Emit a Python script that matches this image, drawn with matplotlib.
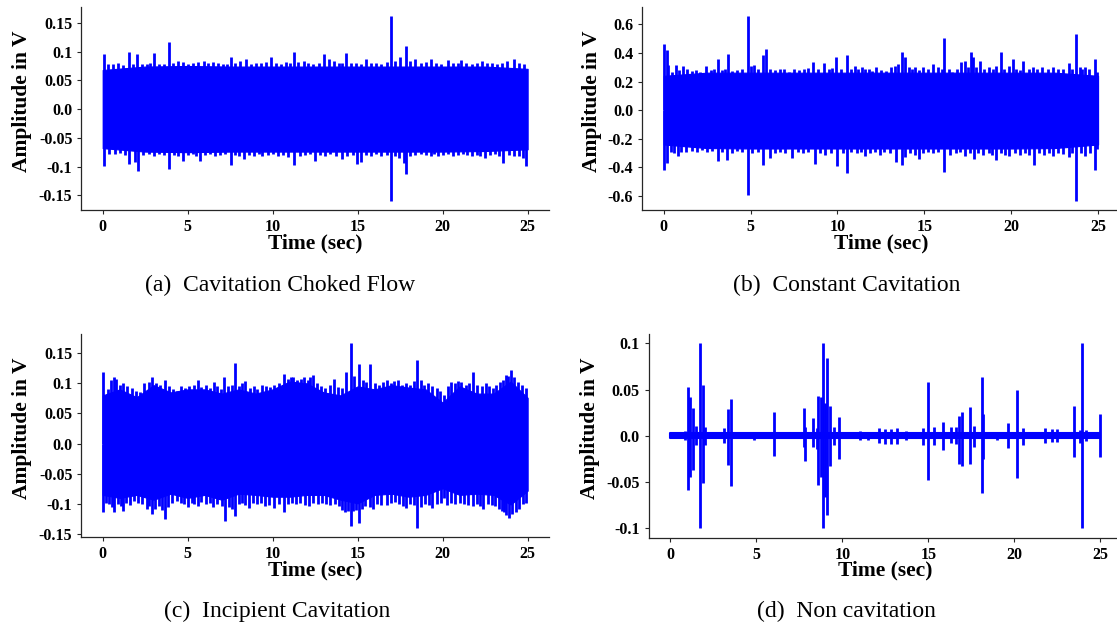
import matplotlib
matplotlib.use("Agg")
import matplotlib.pyplot as plt

# ---------------- data ----------------
time_ticks = [0, 5, 10, 15, 20, 25]
time_tick_labels = ["0", "5", "10", "15", "20", "25"]

captions = ["(a)  Cavitation Choked Flow", "(b)  Constant Cavitation",
            "(c)  Incipient Cavitation", "(d)  Non cavitation"]

# y ticks
a_yticks = [-0.15, -0.1, -0.05, 0.0, 0.05, 0.1, 0.15]
a_ylabels = ["-0.15", "-0.1", "-0.05", "0.0", "0.05", "0.1", "0.15"]
b_yticks = [-0.6, -0.4, -0.2, 0.0, 0.2, 0.4, 0.6]
b_ylabels = ["-0.6", "-0.4", "-0.2", "0.0", "0.2", "0.4", "0.6"]
c_yticks = a_yticks
c_ylabels = a_ylabels
d_yticks = [-0.1, -0.05, 0.0, 0.05, 0.1]
d_ylabels = ["-0.1", "-0.05", "0.0", "0.05", "0.1"]

# ---- (a) Cavitation Choked Flow: solid core envelope + peaks ----
a_env_t = [0, 2.5, 5, 7.5, 10, 12.5, 15, 17.5, 20, 22.5, 25]
a_env_up = [0.068, 0.074, 0.075, 0.074, 0.074, 0.074, 0.074, 0.074, 0.074, 0.074, 0.070]
a_env_lo = [-0.068, -0.074, -0.075, -0.074, -0.074, -0.074, -0.074, -0.074, -0.074, -0.073, -0.070]
a_top_t = [0.06, 0.3, 0.6, 0.9, 1.2, 1.56, 1.8, 2.04, 2.3, 2.6, 2.8, 3.04, 3.3, 3.6, 3.9,
           4.15, 4.42, 4.7, 5.0, 5.3, 5.6, 5.96, 6.2, 6.5, 6.8, 7.1, 7.3, 7.56, 7.8, 8.1,
           8.44, 8.7, 9.0, 9.3, 9.6, 9.92, 10.2, 10.5, 10.8, 11.0, 11.23, 11.5, 11.83, 12.1,
           12.4, 12.7, 13.04, 13.3, 13.6, 13.9, 14.1, 14.33, 14.6, 14.9, 15.2, 15.48, 15.8,
           16.1, 16.4, 16.7, 16.94, 17.2, 17.5, 17.83, 18.1, 18.4, 18.7, 19.0, 19.3, 19.6,
           19.9, 20.3, 20.6, 20.9, 21.1, 21.4, 21.7, 22.0, 22.3, 22.6, 22.9, 23.2, 23.5,
           23.8, 24.2, 24.5, 24.8]
a_top_v = [0.095, 0.079, 0.078, 0.080, 0.077, 0.0995, 0.079, 0.096, 0.078, 0.079, 0.081, 0.097,
           0.078, 0.079, 0.117, 0.080, 0.084, 0.082, 0.079, 0.080, 0.082, 0.084, 0.081, 0.082,
           0.080, 0.078, 0.079, 0.090, 0.080, 0.084, 0.088, 0.079, 0.080, 0.080, 0.082, 0.090,
           0.080, 0.079, 0.082, 0.080, 0.099, 0.082, 0.084, 0.081, 0.079, 0.080, 0.095, 0.087,
           0.083, 0.080, 0.081, 0.097, 0.080, 0.081, 0.079, 0.088, 0.081, 0.080, 0.079, 0.082,
           0.162, 0.084, 0.091, 0.110, 0.084, 0.088, 0.080, 0.082, 0.087, 0.080, 0.079, 0.085,
           0.080, 0.081, 0.086, 0.080, 0.079, 0.081, 0.084, 0.080, 0.081, 0.079, 0.080, 0.083,
           0.088, 0.080, 0.079]
a_bot_t = [0.1, 0.4, 0.7, 1.0, 1.3, 1.56, 1.9, 2.1, 2.4, 2.7, 3.0, 3.3, 3.6, 3.9, 4.2, 4.45,
           4.7, 5.0, 5.3, 5.5, 5.73, 6.0, 6.3, 6.6, 6.9, 7.2, 7.56, 7.8, 8.0, 8.3, 8.6, 8.9,
           9.2, 9.4, 9.7, 10.0, 10.3, 10.6, 10.9, 11.27, 11.6, 11.9, 12.2, 12.5, 12.8, 13.1,
           13.4, 13.7, 14.1, 14.4, 14.7, 14.96, 15.2, 15.5, 15.8, 16.1, 16.4, 16.7, 16.94,
           17.2, 17.45, 17.7, 17.83, 18.1, 18.4, 18.7, 19.0, 19.3, 19.5, 19.75, 20.0, 20.3,
           20.6, 20.9, 21.2, 21.45, 21.7, 22.0, 22.2, 22.5, 22.8, 23.1, 23.3, 23.56, 23.9,
           24.2, 24.5, 24.7, 24.9]
a_bot_v = [-0.099, -0.078, -0.079, -0.077, -0.080, -0.095, -0.092, -0.107, -0.080, -0.078,
           -0.081, -0.079, -0.080, -0.105, -0.080, -0.082, -0.090, -0.080, -0.079, -0.082,
           -0.090, -0.080, -0.078, -0.081, -0.080, -0.079, -0.098, -0.080, -0.082, -0.087,
           -0.080, -0.081, -0.079, -0.082, -0.080, -0.079, -0.081, -0.080, -0.083, -0.098,
           -0.081, -0.080, -0.079, -0.091, -0.080, -0.081, -0.079, -0.082, -0.087, -0.081,
           -0.080, -0.095, -0.092, -0.080, -0.081, -0.079, -0.082, -0.080, -0.160, -0.082,
           -0.086, -0.094, -0.113, -0.081, -0.080, -0.079, -0.080, -0.081, -0.079, -0.082,
           -0.080, -0.079, -0.081, -0.080, -0.079, -0.080, -0.082, -0.080, -0.081, -0.085,
           -0.080, -0.079, -0.081, -0.094, -0.080, -0.081, -0.082, -0.085, -0.099]

# ---- (b) Constant Cavitation ----
b_env_t = [0, 2.5, 5, 7.5, 10, 12.5, 15, 17.5, 20, 22.5, 25]
b_env_up = [0.24, 0.262, 0.262, 0.262, 0.262, 0.262, 0.262, 0.262, 0.262, 0.262, 0.24]
b_env_lo = [-0.24, -0.265, -0.268, -0.268, -0.268, -0.268, -0.268, -0.268, -0.268, -0.265, -0.24]
b_top_t = [0.04, 0.18, 0.25, 0.5, 0.7, 0.9, 1.1, 1.35, 1.6, 1.85, 2.1, 2.43, 2.7, 2.9, 3.1,
           3.35, 3.5, 3.7, 3.95, 4.2, 4.5, 4.84, 5.0, 5.18, 5.4, 5.7, 5.9, 6.1, 6.4, 6.67,
           6.9, 7.2, 7.5, 7.8, 8.1, 8.3, 8.6, 8.9, 9.2, 9.5, 9.7, 9.94, 10.2, 10.55, 10.8,
           11.0, 11.2, 11.4, 11.6, 11.8, 12.0, 12.2, 12.5, 12.8, 13.08, 13.3, 13.5, 13.7,
           13.86, 14.1, 14.3, 14.47, 14.7, 14.9, 15.2, 15.5, 15.8, 16.0, 16.14, 16.4, 16.6,
           16.9, 17.1, 17.33, 17.5, 17.67, 17.8, 18.0, 18.2, 18.45, 18.7, 18.95, 19.15, 19.4,
           19.6, 19.85, 20.08, 20.3, 20.5, 20.7, 21.0, 21.25, 21.5, 21.8, 22.1, 22.4, 22.7,
           23.0, 23.3, 23.5, 23.71, 23.95, 24.1, 24.27, 24.5, 24.84, 24.95]
b_top_v = [0.459, 0.420, 0.315, 0.270, 0.315, 0.280, 0.310, 0.285, 0.275, 0.280, 0.265, 0.308,
           0.280, 0.285, 0.360, 0.280, 0.285, 0.390, 0.275, 0.280, 0.290, 0.658, 0.310, 0.315,
           0.285, 0.385, 0.424, 0.290, 0.280, 0.285, 0.290, 0.270, 0.285, 0.280, 0.285, 0.295,
           0.333, 0.290, 0.331, 0.285, 0.295, 0.368, 0.290, 0.385, 0.285, 0.310, 0.290, 0.300,
           0.285, 0.290, 0.275, 0.300, 0.280, 0.275, 0.300, 0.310, 0.320, 0.408, 0.373, 0.300,
           0.290, 0.300, 0.280, 0.300, 0.290, 0.322, 0.300, 0.290, 0.505, 0.285, 0.270, 0.290,
           0.338, 0.340, 0.300, 0.408, 0.368, 0.300, 0.343, 0.290, 0.300, 0.290, 0.310, 0.403,
           0.290, 0.310, 0.354, 0.290, 0.280, 0.345, 0.290, 0.300, 0.285, 0.300, 0.290, 0.300,
           0.285, 0.290, 0.331, 0.290, 0.535, 0.300, 0.290, 0.300, 0.285, 0.360, 0.270]
b_bot_t = [0.04, 0.18, 0.4, 0.6, 0.8, 1.0, 1.3, 1.6, 1.9, 2.2, 2.5, 2.8, 3.1, 3.35, 3.65, 3.9,
           4.2, 4.5, 4.84, 5.1, 5.4, 5.7, 6.1, 6.4, 6.7, 7.0, 7.39, 7.7, 8.0, 8.3, 8.71, 9.0,
           9.3, 9.6, 9.98, 10.3, 10.55, 10.8, 11.1, 11.35, 11.6, 11.9, 12.15, 12.43, 12.7,
           13.0, 13.35, 13.7, 13.9, 14.2, 14.45, 14.67, 14.9, 15.2, 15.5, 15.8, 16.14, 16.5,
           16.8, 17.05, 17.33, 17.6, 17.84, 18.1, 18.4, 18.7, 18.9, 19.12, 19.4, 19.65, 19.9,
           20.2, 20.5, 20.8, 21.05, 21.3, 21.6, 21.9, 22.15, 22.43, 22.7, 23.0, 23.3, 23.5,
           23.71, 24.0, 24.27, 24.55, 24.8, 24.95]
b_bot_v = [-0.415, -0.368, -0.290, -0.300, -0.322, -0.290, -0.295, -0.285, -0.290, -0.280,
           -0.295, -0.285, -0.357, -0.290, -0.350, -0.300, -0.285, -0.290, -0.595, -0.300,
           -0.295, -0.380, -0.336, -0.300, -0.290, -0.300, -0.334, -0.290, -0.300, -0.295,
           -0.378, -0.300, -0.310, -0.300, -0.387, -0.300, -0.438, -0.290, -0.300, -0.295,
           -0.322, -0.300, -0.295, -0.310, -0.290, -0.300, -0.364, -0.385, -0.330, -0.300,
           -0.310, -0.340, -0.300, -0.295, -0.300, -0.290, -0.430, -0.310, -0.300, -0.290,
           -0.322, -0.300, -0.340, -0.300, -0.310, -0.300, -0.310, -0.345, -0.300, -0.310,
           -0.322, -0.300, -0.310, -0.300, -0.310, -0.382, -0.300, -0.310, -0.300, -0.320,
           -0.300, -0.305, -0.325, -0.300, -0.635, -0.300, -0.322, -0.300, -0.415, -0.270]

# ---- (c) Incipient Cavitation ----
c_env_t = list(range(26))
c_env_up = [0.080, 0.090, 0.077, 0.097, 0.085, 0.090, 0.090, 0.083, 0.090, 0.083, 0.090, 0.103,
            0.100, 0.085, 0.080, 0.095, 0.090, 0.097, 0.093, 0.090, 0.068, 0.095, 0.083, 0.083,
            0.103, 0.076]
c_env_lo = [-0.085, -0.090, -0.085, -0.093, -0.083, -0.090, -0.085, -0.093, -0.083, -0.085,
            -0.088, -0.088, -0.085, -0.085, -0.093, -0.099, -0.085, -0.083, -0.088, -0.085,
            -0.074, -0.085, -0.083, -0.085, -0.101, -0.078]
c_top_t = [0.02, 0.3, 0.5, 0.65, 0.8, 1.0, 1.2, 1.45, 1.7, 1.95, 2.2, 2.45, 2.7, 2.9, 3.15,
           3.4, 3.65, 3.9, 4.15, 4.4, 4.6, 4.85, 5.1, 5.35, 5.58, 5.8, 6.05, 6.3, 6.52, 6.75,
           6.95, 7.15, 7.4, 7.6, 7.77, 8.0, 8.2, 8.4, 8.65, 8.9, 9.1, 9.35, 9.6, 9.85, 10.1,
           10.35, 10.65, 10.9, 11.05, 11.2, 11.45, 11.65, 11.83, 12.05, 12.2, 12.35, 12.6,
           12.85, 13.1, 13.35, 13.6, 13.85, 14.1, 14.33, 14.58, 14.8, 15.06, 15.3, 15.5, 15.75,
           16.0, 16.25, 16.5, 16.7, 16.95, 17.15, 17.35, 17.6, 17.85, 18.1, 18.3, 18.5, 18.7,
           18.9, 19.15, 19.4, 19.65, 19.85, 20.1, 20.3, 20.48, 20.7, 20.9, 21.1, 21.35, 21.55,
           21.8, 22.05, 22.3, 22.55, 22.75, 22.98, 23.15, 23.35, 23.55, 23.7, 23.85, 24.02,
           24.2, 24.44, 24.65, 24.9]
c_top_v = [0.119, 0.090, 0.105, 0.110, 0.108, 0.098, 0.100, 0.095, 0.092, 0.088, 0.085, 0.100,
           0.103, 0.110, 0.100, 0.098, 0.106, 0.095, 0.090, 0.088, 0.095, 0.092, 0.095, 0.098,
           0.106, 0.094, 0.098, 0.092, 0.102, 0.095, 0.090, 0.110, 0.095, 0.098, 0.1335, 0.095,
           0.100, 0.104, 0.092, 0.095, 0.090, 0.098, 0.095, 0.094, 0.098, 0.100, 0.116, 0.108,
           0.110, 0.110, 0.105, 0.108, 0.111, 0.105, 0.110, 0.113, 0.100, 0.095, 0.092, 0.098,
           0.108, 0.094, 0.092, 0.119, 0.1665, 0.112, 0.132, 0.105, 0.102, 0.132, 0.100, 0.098,
           0.102, 0.106, 0.100, 0.104, 0.106, 0.098, 0.100, 0.098, 0.104, 0.138, 0.106, 0.098,
           0.100, 0.095, 0.092, 0.088, 0.080, 0.095, 0.102, 0.100, 0.104, 0.102, 0.098, 0.100,
           0.119, 0.098, 0.095, 0.100, 0.095, 0.092, 0.098, 0.102, 0.105, 0.113, 0.112, 0.1225,
           0.110, 0.102, 0.098, 0.092]
c_bot_t = [0.0, 0.2, 0.37, 0.55, 0.69, 0.9, 1.05, 1.2, 1.4, 1.6, 1.85, 2.1, 2.3, 2.6, 2.75,
           2.9, 3.1, 3.3, 3.5, 3.65, 3.85, 4.1, 4.35, 4.6, 4.8, 5.0, 5.25, 5.4, 5.58, 5.8,
           6.05, 6.3, 6.5, 6.75, 7.0, 7.2, 7.45, 7.6, 7.77, 8.0, 8.2, 8.4, 8.6, 8.85, 9.1, 9.3,
           9.54, 9.8, 10.1, 10.35, 10.65, 10.9, 11.15, 11.4, 11.6, 11.9, 12.15, 12.4, 12.65,
           12.9, 13.15, 13.4, 13.65, 13.9, 14.1, 14.27, 14.45, 14.58, 14.75, 14.9, 15.06,
           15.25, 15.45, 15.7, 15.9, 16.15, 16.4, 16.7, 16.95, 17.2, 17.45, 17.65, 17.85, 18.1,
           18.3, 18.5, 18.7, 18.95, 19.2, 19.4, 19.65, 19.9, 20.05, 20.27, 20.5, 20.75, 21.0,
           21.25, 21.5, 21.8, 22.05, 22.2, 22.4, 22.65, 22.9, 23.1, 23.3, 23.5, 23.6, 23.75,
           23.9, 24.1, 24.33, 24.5, 24.7, 24.9]
c_bot_v = [-0.114, -0.098, -0.100, -0.105, -0.113, -0.100, -0.104, -0.111, -0.098, -0.102,
           -0.095, -0.098, -0.100, -0.109, -0.104, -0.117, -0.108, -0.104, -0.110, -0.125,
           -0.105, -0.098, -0.095, -0.098, -0.100, -0.105, -0.098, -0.100, -0.104, -0.096,
           -0.100, -0.098, -0.105, -0.100, -0.104, -0.128, -0.105, -0.108, -0.120, -0.100,
           -0.098, -0.102, -0.106, -0.098, -0.100, -0.098, -0.104, -0.102, -0.106, -0.100,
           -0.114, -0.100, -0.098, -0.100, -0.098, -0.102, -0.104, -0.098, -0.100, -0.098,
           -0.100, -0.102, -0.100, -0.104, -0.110, -0.114, -0.112, -0.136, -0.112, -0.110,
           -0.132, -0.108, -0.104, -0.105, -0.108, -0.100, -0.102, -0.102, -0.098, -0.096,
           -0.100, -0.104, -0.107, -0.100, -0.102, -0.140, -0.105, -0.100, -0.102, -0.106,
           -0.100, -0.098, -0.090, -0.102, -0.098, -0.100, -0.098, -0.100, -0.102, -0.104,
           -0.100, -0.104, -0.109, -0.100, -0.102, -0.104, -0.108, -0.112, -0.114, -0.118,
           -0.124, -0.116, -0.114, -0.108, -0.100, -0.098]

# ---- (d) Non cavitation: quiet baseline + bursts ----
d_env_t = [0, 25]
d_env_up = [0.0027, 0.0027]
d_env_lo = [-0.0027, -0.0027]
d_burst_t = [0.85, 1.05, 1.15, 1.3, 1.5, 1.75, 1.9, 2.0, 3.1, 3.35, 3.5, 4.85, 6.0, 7.75,
             7.85, 8.3, 8.5, 8.6, 8.75, 8.85, 9.0, 9.1, 9.3, 9.5, 9.8, 11.0, 11.5, 12.1, 12.5,
             12.85, 13.2, 13.7, 14.7, 15.0, 15.3, 15.85, 16.3, 16.6, 16.8, 16.95, 17.4, 17.65,
             18.1, 18.2, 19.0, 19.6, 20.15, 20.5, 21.8, 22.2, 22.5, 23.45, 23.8, 23.95, 24.15,
             25.0]
d_burst_top = [0.005, 0.053, 0.042, 0.030, 0.011, 0.100, 0.055, 0.010, 0.009, 0.029, 0.040,
               0.0045, 0.026, 0.030, 0.010, 0.019, 0.009, 0.043, 0.042, 0.100, 0.035, 0.084,
               0.032, 0.010, 0.020, 0.005, 0.0045, 0.008, 0.007, 0.007, 0.009, 0.005, 0.009,
               0.058, 0.010, 0.015, 0.010, 0.010, 0.021, 0.026, 0.031, 0.011, 0.064, 0.024,
               0.0045, 0.0135, 0.050, 0.009, 0.008, 0.007, 0.007, 0.032, 0.006, 0.100, 0.006,
               0.024]
d_burst_bot = [-0.005, -0.058, -0.044, -0.037, -0.010, -0.100, -0.051, -0.010, -0.008,
               -0.031, -0.054, -0.0045, -0.022, -0.012, -0.027, -0.012, -0.014, -0.053,
               -0.044, -0.100, -0.066, -0.086, -0.033, -0.010, -0.025, -0.005, -0.0045,
               -0.0075, -0.009, -0.009, -0.009, -0.005, -0.010, -0.048, -0.010, -0.015,
               -0.008, -0.009, -0.030, -0.033, -0.030, -0.012, -0.0615, -0.025, -0.0045,
               -0.0135, -0.045, -0.010, -0.008, -0.007, -0.007, -0.023, -0.008, -0.100,
               -0.006, -0.0225]

# ---------------- drawing ----------------
BLUE = (0.0, 0.0, 1.0)
TICK_FONT = dict(family="Liberation Serif", weight="bold", size=11.5)
LABEL_FONT = dict(family="Liberation Serif", weight="bold", size=15.5)
CAP_FONT = dict(family="Liberation Serif", size=17)

fig = plt.figure(figsize=(11.17, 6.29), dpi=100)

rects = [
    [0.0729, 0.6657, 0.4185, 0.3236],
    [0.5748, 0.6657, 0.4277, 0.3236],
    [0.0729, 0.1458, 0.4185, 0.3232],
    [0.5809, 0.1452, 0.4235, 0.3237],
]
ylabel_x = [-0.106, -0.083, -0.106, -0.103]


def style_axes(ax, yticks, ylabels, ylx):
    for s in ("top", "right"):
        ax.spines[s].set_visible(False)
    for s in ("left", "bottom"):
        ax.spines[s].set_linewidth(0.9)
        ax.spines[s].set_color("0.15")
    ax.tick_params(length=3, width=0.8, color="0.15", pad=3.5)
    ax.set_xticks(time_ticks)
    ax.set_xticklabels(time_tick_labels, **TICK_FONT)
    ax.set_yticks(yticks)
    ax.set_yticklabels(ylabels, **TICK_FONT)
    ax.set_xlabel("Time (sec)", **LABEL_FONT)
    ax.set_ylabel("Amplitude in V", **LABEL_FONT)
    ax.yaxis.set_label_coords(ylx, 0.535)
    ax.xaxis.set_label_coords(0.5, -0.112)


def draw_dense(ax, env_t, env_up, env_lo, top_t, top_v, bot_t, bot_v):
    ax.fill_between(env_t, env_lo, env_up, color=BLUE, lw=0.8)
    ax.vlines(top_t, 0, top_v, colors=[BLUE], lw=2.0)
    ax.vlines(bot_t, bot_v, 0, colors=[BLUE], lw=2.0)


axes = [fig.add_axes(r) for r in rects]

draw_dense(axes[0], a_env_t, a_env_up, a_env_lo, a_top_t, a_top_v, a_bot_t, a_bot_v)
draw_dense(axes[1], b_env_t, b_env_up, b_env_lo, b_top_t, b_top_v, b_bot_t, b_bot_v)
draw_dense(axes[2], c_env_t, c_env_up, c_env_lo, c_top_t, c_top_v, c_bot_t, c_bot_v)
axes[3].fill_between(d_env_t, d_env_lo, d_env_up, color=BLUE, lw=1.5)
axes[3].vlines(d_burst_t, d_burst_bot, d_burst_top, colors=[BLUE], lw=2.0)

style_axes(axes[0], a_yticks, a_ylabels, ylabel_x[0])
style_axes(axes[1], b_yticks, b_ylabels, ylabel_x[1])
style_axes(axes[2], c_yticks, c_ylabels, ylabel_x[2])
style_axes(axes[3], d_yticks, d_ylabels, ylabel_x[3])

for ax in axes:
    ax.set_xlim(-1.25, 26.25)

cap_pos = [(280, 285), (847, 285), (277, 611), (846, 611)]
for (px, py), text in zip(cap_pos, captions):
    fig.text(px / 1117, 1 - py / 629, text, ha="center", va="center", **CAP_FONT)

fig.savefig("out.png", dpi=100)
